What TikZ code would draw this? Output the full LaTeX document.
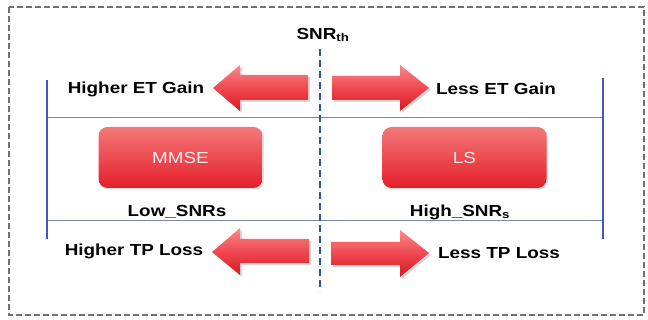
\documentclass[tikz,border=0pt]{standalone}
\usepackage{fontspec}
\setmainfont[FakeStretch=1.18]{Liberation Sans}
\usetikzlibrary{shadows}
\definecolor{arrowlight}{HTML}{F88A8A}
\definecolor{arrowmid}{HTML}{F04850}
\definecolor{arrowdark}{HTML}{D81822}
\definecolor{boxlight}{HTML}{F27878}
\definecolor{boxdark}{HTML}{E51F2B}
\definecolor{sidecol}{HTML}{4455C8}
\definecolor{rulecol}{HTML}{7C88A8}
\definecolor{midcol}{HTML}{2E55A0}
\definecolor{framecol}{HTML}{707070}
\begin{document}
\begin{tikzpicture}[x=1pt,y=-1pt,
  lbl/.style={font=\fontsize{16}{18}\selectfont\bfseries, text=black, inner sep=0pt},
  methodbox/.style={rounded corners=9pt, minimum width=164pt, minimum height=61pt,
     top color=boxlight, bottom color=boxdark, draw=none,
     drop shadow={opacity=0.25, shadow xshift=1.5pt, shadow yshift=-1.5pt},
     text=white!92!red, font=\fontsize{16}{18}\selectfont},
  bigarrow/.style={draw=none, top color=arrowlight, bottom color=arrowdark, middle color=arrowmid,
     drop shadow={opacity=0.3, shadow xshift=2pt, shadow yshift=-2pt}},
  sideline/.style={draw=sidecol, line width=1.8pt},
  rule/.style={draw=rulecol, line width=0.8pt},
  threshold/.style={draw=midcol, line width=1.8pt, dash pattern=on 7pt off 4pt}]
\useasboundingbox (0,0) rectangle (648,320);
\fill[white] (0,0) rectangle (648,320);
% outer frame
\draw[framecol, line width=1.5pt, dash pattern=on 6pt off 3pt] (9,7) rectangle (644,315);

% coordinates
\coordinate (lt) at (47,80);
\coordinate (lb) at (47,239);
\coordinate (rt) at (603,78);
\coordinate (rb) at (603,239);
\coordinate (r1l) at (47,117);
\coordinate (r1r) at (603,117);
\coordinate (r2l) at (47,220);
\coordinate (r2r) at (603,220);
\coordinate (mt) at (320,49);
\coordinate (mb) at (320,291);

% horizontal rules
\draw[rule] (r1l) -- (r1r);
\draw[rule] (r2l) -- (r2r);
% side lines
\draw[sideline] (lt) -- (lb);
\draw[sideline] (rt) -- (rb);

% arrows
\path[bigarrow] (213,88) -- (240,65) -- (240,75) -- (308,75) -- (308,100) -- (240,100) -- (240,111) -- cycle;
\path[bigarrow] (429,88) -- (400,65) -- (400,76) -- (332,76) -- (332,100) -- (400,100) -- (400,111) -- cycle;
\path[bigarrow] (212,252) -- (240,228) -- (240,239) -- (309,239) -- (309,263) -- (240,263) -- (240,275) -- cycle;
\path[bigarrow] (429,253) -- (400,230) -- (400,242) -- (331,242) -- (331,265) -- (400,265) -- (400,277) -- cycle;

% threshold line
\draw[threshold] (mt) -- (mb);
\node[lbl] (snr) at (323,35) {SNR\textsubscript{th}};

% labels
\node[lbl] (hetg) at (136,89) {Higher ET Gain};
\node[lbl] (letg) at (496,89) {Less ET Gain};
\node[lbl] (htpl) at (134,251) {Higher TP Loss};
\node[lbl] (ltpl) at (499,253) {Less TP Loss};

% boxes
\node[methodbox] (mmse) at (180.5,157.5) {MMSE};
\node[methodbox] (ls) at (464.5,157.5) {LS};

\node[lbl] (low) at (177,212) {Low\_SNRs};
\node[lbl] (high) at (460,212) {High\_SNR\textsubscript{s}};
\end{tikzpicture}
\end{document}
